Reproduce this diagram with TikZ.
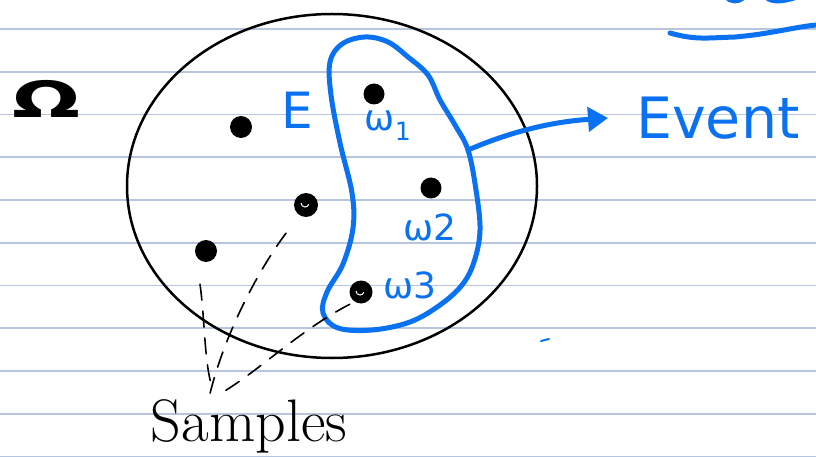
\documentclass[tikz,border=0pt]{standalone}
\usepackage{amsmath,amssymb}
\usepackage{fontspec}
\setsansfont{DejaVu Sans}
\usetikzlibrary{arrows.meta,calc}
\definecolor{ink}{RGB}{10,114,240}
\definecolor{paper}{RGB}{183,197,222}

\begin{document}
\begin{tikzpicture}[x=1pt,y=-1pt,
    dot/.style={circle,fill=black,inner sep=0pt,minimum size=#1},
    dot/.default=20pt,
    pen/.style={ink,line width=5pt,line cap=round,line join=round},
    dashline/.style={black,line width=1.6pt,line cap=round,dash pattern=on 16pt off 11pt},
    omlabel/.style={ink,font=\sffamily\fontsize{36}{36}\selectfont}]
    \useasboundingbox (0,0) rectangle (816,457);
    \fill[white] (0,0) rectangle (816,457);
    % ruled paper
    \foreach \k in {0,...,10}
      \draw[paper,line width=1.8pt] (0,{29+42.75*\k}) -- (816,{29+42.75*\k});
    % sample space
    \draw[line width=2.5pt] (332,186) ellipse (205 and 172);
    \node[xscale=1.6,font=\sffamily\bfseries\fontsize{50}{50}\selectfont] (omega) at (47,99) {Ω};
    % outcomes
    \node[dot=21pt] (w1) at (374,94) {};
    \node[dot=22pt] (a) at (241,127) {};
    \node[dot=21pt] (w2) at (431,188) {};
    \node[dot=24pt] (b) at (306,205) {};
    \node[dot=22pt] (c) at (206,251) {};
    \node[dot=23pt] (w3) at (361,292) {};
    \draw[white,line width=1pt] (301,203) arc (180:20:4);
    \draw[white,line width=1pt] (356,291) arc (180:20:4);
    % the event
    \draw[pen] plot[smooth cycle,tension=0.6] coordinates{
      (330,62) (342,44) (365,37) (388,42) (408,57) (428,75) (440,100)
      (455,125) (468,150) (476,190) (480,230) (474,262) (462,285)
      (440,305) (410,322) (372,330) (338,328) (323,313) (327,292)
      (343,264) (353,228) (352,193) (340,143) (331,95)};
    \coordinate (edge) at (468,150);
    \node[ink,font=\sffamily\fontsize{50}{50}\selectfont] (E) at (297,110) {E};
    \node[omlabel] (l1) at (388,126) {ω\textsubscript{1}};
    \node[omlabel] (l2) at (430,227) {ω2};
    \node[omlabel] (l3) at (410,285) {ω3};
    \node[ink,font=\sffamily\fontsize{57}{57}\selectfont,inner sep=0pt,anchor=west] (event) at (636,118) {Event};
    \draw[pen,-{Triangle[length=20pt,width=24pt]}] (edge) .. controls (510,132) and (550,122) .. ([xshift=-28pt]event.west);
    % scribbles at the top
    \draw[pen] (670,33) .. controls (695,40) and (705,38) .. (735,37) .. controls (770,34) and (795,27) .. (816,25);
    \draw[pen] (726,-3) .. controls (731,2) and (738,2) .. (743,-2);
    \draw[pen] (766,-3) .. controls (772,3) and (784,1) .. (794,-2);
    \draw[ink,line width=2pt,line cap=round] (541,341) -- (549,339);
    % samples
    \node[font=\fontsize{60}{60}\selectfont] (samples) at (249,426) {Samples};
    \draw[dashline] (c.south) ++(-6,22) .. controls (205,320) and (204,360) .. ([xshift=-37pt,yshift=8pt]samples.north);
    \draw[dashline] (b.south) ++(-20,16) .. controls (262,265) and (225,330) .. ([xshift=-40pt,yshift=-2pt]samples.north);
    \draw[dashline] (w3.south west) ++(-3,4) .. controls (300,330) and (260,370) .. ([xshift=-27pt,yshift=3pt]samples.north);
\end{tikzpicture}
\end{document}
